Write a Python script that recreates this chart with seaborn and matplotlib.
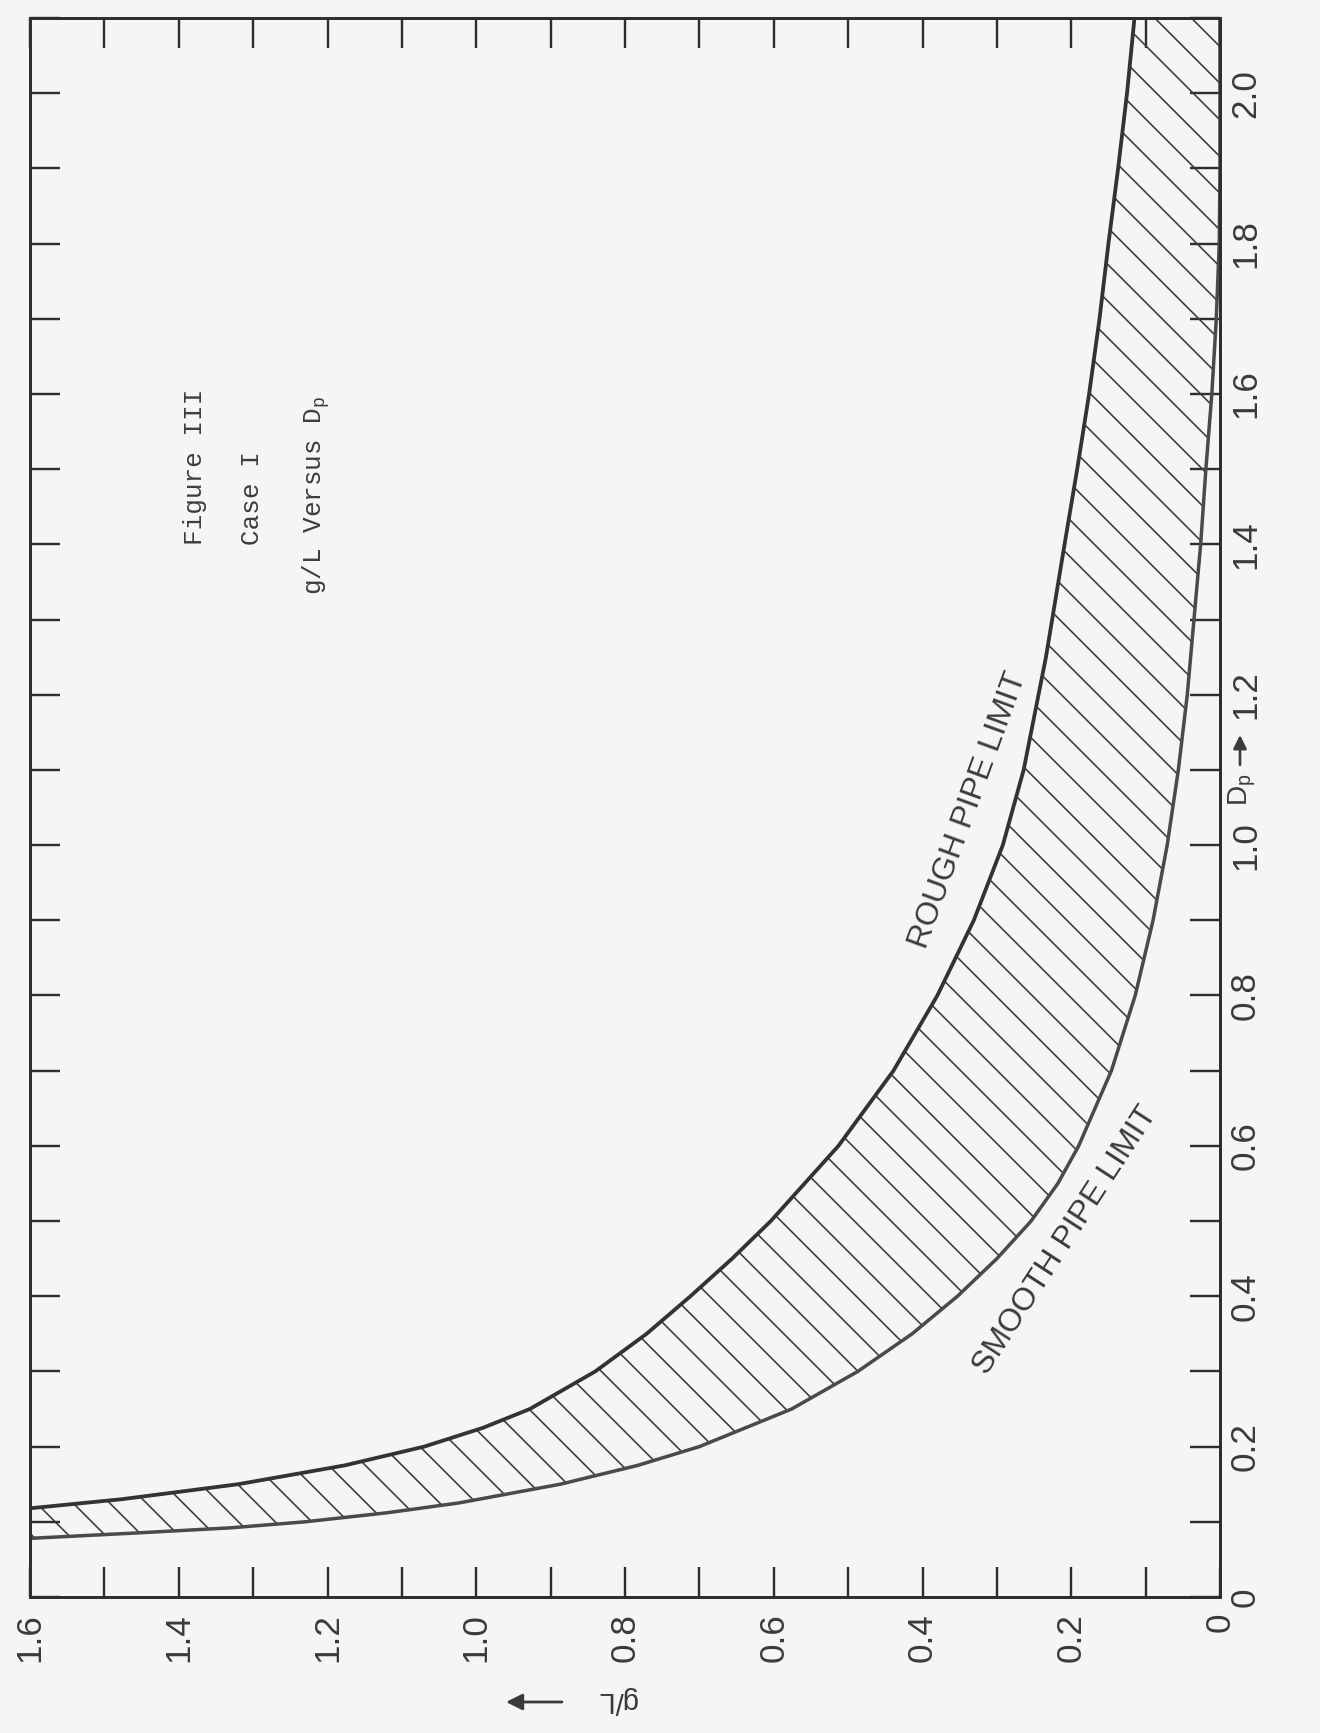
import matplotlib
import numpy as np
import seaborn as sns

matplotlib.use("Agg")
import matplotlib.pyplot as plt  # noqa: E402
from matplotlib.ticker import MultipleLocator  # noqa: E402

# g/L runs along the bottom of the (rotated) sheet, D_p up the right side
gl_ticks = [1.6, 1.4, 1.2, 1.0, 0.8, 0.6, 0.4, 0.2, 0.0]
gl_labels = ["1.6", "1.4", "1.2", "1.0", "0.8", "0.6", "0.4", "0.2", "0"]
dp_ticks = [0.0, 0.2, 0.4, 0.6, 0.8, 1.0, 1.2, 1.4, 1.6, 1.8, 2.0]
dp_labels = ["0", "0.2", "0.4", "0.6", "0.8", "1.0", "1.2", "1.4", "1.6", "1.8", "2.0"]

# rough pipe limit
rough_dp = [0.118, 0.13, 0.15, 0.175, 0.20, 0.225, 0.25, 0.30, 0.35, 0.40,
            0.45, 0.50, 0.60, 0.70, 0.80, 0.90, 1.00, 1.10, 1.25, 1.40,
            1.50, 1.60, 1.70, 1.80, 1.90, 2.00, 2.10]
rough_gl = [1.60, 1.477, 1.32, 1.177, 1.07, 0.991, 0.928, 0.84, 0.771, 0.712,
            0.656, 0.604, 0.513, 0.439, 0.38, 0.331, 0.292, 0.264, 0.234, 0.209,
            0.192, 0.176, 0.162, 0.15, 0.137, 0.125, 0.115]

# smooth pipe limit
smooth_dp = [0.078, 0.085, 0.092, 0.10, 0.112, 0.125, 0.15, 0.175, 0.20, 0.25,
             0.30, 0.35, 0.40, 0.45, 0.50, 0.55, 0.60, 0.70, 0.80, 0.90,
             1.00, 1.10, 1.20, 1.30, 1.40, 1.50, 1.60, 1.70, 1.80, 1.90, 2.10]
smooth_gl = [1.60, 1.46, 1.33, 1.23, 1.12, 1.024, 0.887, 0.783, 0.70, 0.576,
             0.487, 0.414, 0.353, 0.30, 0.254, 0.218, 0.19, 0.146, 0.114, 0.09,
             0.071, 0.056, 0.044, 0.035, 0.026, 0.019, 0.011, 0.005, 0.001, 0.0, 0.0]

W, H, DPI = 1320, 1733, 110
BG = "#f5f5f3"
INK = "#2e2e2e"


def pt(pixels):
    return pixels * 72 / DPI


def px(x, y):
    return x / W, 1 - y / H


sns.set_theme(style="white")
plt.rcParams["font.family"] = ["Liberation Sans", "DejaVu Sans"]
plt.rcParams["mathtext.fontset"] = "custom"
plt.rcParams["mathtext.rm"] = "Liberation Mono"
plt.rcParams["mathtext.sf"] = "Liberation Sans"
plt.rcParams["hatch.linewidth"] = pt(1.6)

fig = plt.figure(figsize=(W / DPI, H / DPI), dpi=DPI)
fig.patch.set_facecolor(BG)
ax = fig.add_axes([30 / W, 1 - 1597 / H, (1220 - 30) / W, (1597 - 18) / H])
ax.set_facecolor(BG)

band_x = np.concatenate([rough_gl, smooth_gl[::-1]])
band_y = np.concatenate([rough_dp, smooth_dp[::-1]])
ax.fill(band_x, band_y, facecolor="none", edgecolor="#3a3a3a", hatch="\\", linewidth=0)

sns.lineplot(x=rough_gl, y=rough_dp, sort=False, estimator=None, color="#333333",
             linewidth=pt(3.8), ax=ax)
sns.lineplot(x=smooth_gl, y=smooth_dp, sort=False, estimator=None, color="#4a4a4a",
             linewidth=pt(3.5), ax=ax)

ax.set_xlim(1.6, 0.0)
ax.set_ylim(0.0, 2.1)

ax.set_xticks(gl_ticks)
ax.set_xticklabels(gl_labels, rotation=90)
ax.set_yticks(dp_ticks)
ax.set_yticklabels(dp_labels, rotation=90, va="center")
ax.xaxis.set_minor_locator(MultipleLocator(0.1))
ax.yaxis.set_minor_locator(MultipleLocator(0.1))
ax.tick_params(which="both", direction="in", length=pt(30), width=pt(2.4), color=INK,
               top=True, bottom=True, left=True, right=True,
               labelleft=False, labelright=True, labelsize=pt(35), labelcolor="#3a3a3a")
ax.tick_params(axis="x", which="major", pad=pt(16))
ax.tick_params(axis="y", which="major", pad=pt(9))
for spine in ax.spines.values():
    spine.set_linewidth(pt(3))
    spine.set_color(INK)

# curve labels
ax.text(*px(968, 810), "ROUGH PIPE LIMIT", transform=fig.transFigure, rotation=70,
        ha="center", va="center", fontsize=pt(32), color="#3a3a3a")
ax.text(*px(1066, 1240), "SMOOTH PIPE LIMIT", transform=fig.transFigure, rotation=57,
        ha="center", va="center", fontsize=pt(32), color="#3a3a3a")

# typed caption
mono = dict(family="Liberation Mono", fontsize=pt(26), color="#3c3c3c", rotation=90,
            ha="center", va="bottom")
fig.text(*px(195, 545), "Figure III", **mono)
fig.text(*px(252, 545), "Case I", **mono)
fig.text(*px(316, 595), r"g/L Versus D$_{\mathrm{p}}$", **mono)

# axis names with arrows
fig.text(*px(617, 1700), "g/L", rotation=180, ha="center", va="center",
         fontsize=pt(29), color="#3a3a3a")
ax.annotate("", xy=px(503, 1702), xytext=px(565, 1702), xycoords="figure fraction",
            textcoords="figure fraction",
            arrowprops=dict(arrowstyle="-|>", color="#3a3a3a", lw=pt(2.8), mutation_scale=pt(34)))
# D_p sits in the tick-label column between 1.0 and 1.2
fig.text(*px(1242, 806), r"$\mathsf{D_p}$", rotation=90, ha="center", va="bottom",
         fontsize=pt(28), color="#3a3a3a")
ax.annotate("", xy=px(1240, 732), xytext=px(1240, 768), xycoords="figure fraction",
            textcoords="figure fraction",
            arrowprops=dict(arrowstyle="-|>", color="#3a3a3a", lw=pt(2.6), mutation_scale=pt(28)))

fig.savefig("out.png", dpi=DPI, facecolor=BG)
